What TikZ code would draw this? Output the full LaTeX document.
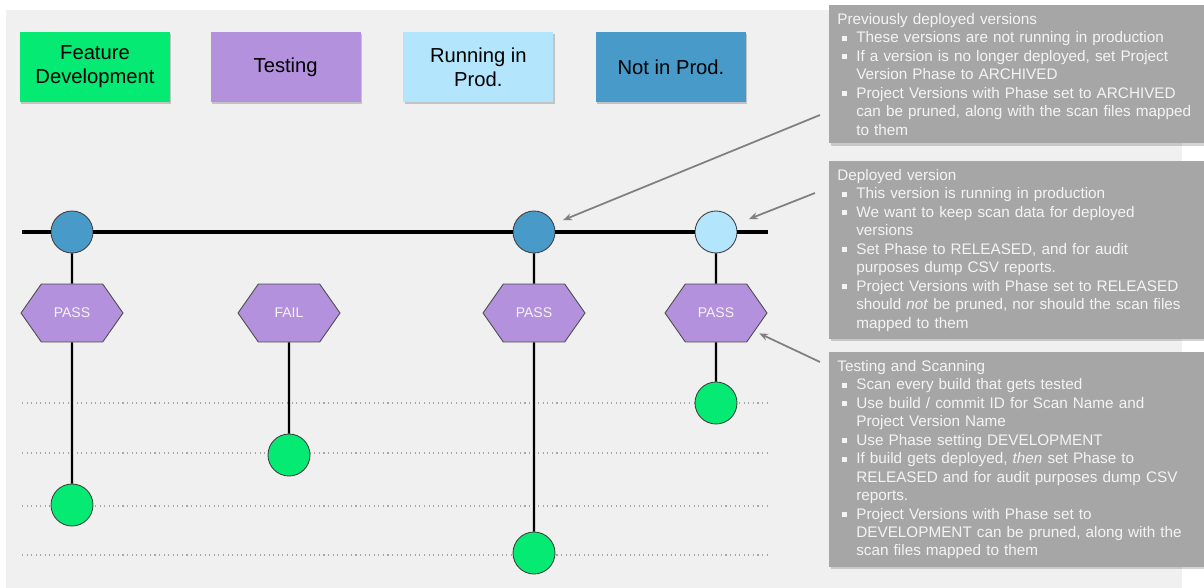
\documentclass[tikz,border=0pt]{standalone}
\usepackage{fontspec}
\setmainfont{Liberation Sans}
\usetikzlibrary{shapes.symbols, arrows.meta, positioning, shadows}

\definecolor{devgreen}{RGB}{5,234,115}
\definecolor{testpurple}{RGB}{179,145,220}
\definecolor{prodblue}{RGB}{179,229,252}
\definecolor{oldblue}{RGB}{72,155,200}
\definecolor{pagegray}{RGB}{240,240,240}
\definecolor{notegray}{RGB}{166,166,166}
\definecolor{notetext}{RGB}{244,244,244}

\newcommand{\itm}{\makebox[0.38cm][l]{\hspace*{0.09cm}\rule[0.25ex]{0.1cm}{0.1cm}}}
\newcommand{\cont}{\hspace*{0.38cm}}

\begin{document}
\begin{tikzpicture}[
  x=0.02cm, y=-0.02cm,
  legend/.style={
    rectangle, minimum width=3cm, minimum height=1.4cm,
    align=center, font=\fontsize{11.5}{13.5}\selectfont,
    drop shadow={shadow xshift=0.7pt, shadow yshift=-1.3pt, opacity=0.4}
  },
  ver/.style={
    circle, draw=black!75, line width=0.5pt,
    minimum size=0.84cm, inner sep=0pt
  },
  gate/.style={
    signal, signal to=east and west, signal pointer angle=110,
    draw=black!70, line width=0.5pt, fill=testpurple,
    minimum width=2.04cm, minimum height=1.16cm, inner sep=0pt,
    text=notetext, font=\fontsize{8}{9}\selectfont
  },
  note/.style={
    rectangle, fill=notegray, anchor=north west,
    text width=7.18cm, inner xsep=0.16cm, inner ysep=0.16cm,
    align=left, text=notetext, font=\fontsize{8.7}{10.5}\selectfont,
    drop shadow={shadow xshift=0.8pt, shadow yshift=-1.3pt, opacity=0.35}
  },
  mainline/.style={line width=1.9pt, draw=black},
  stem/.style={line width=1.3pt, draw=black},
  gridline/.style={dotted, line width=0.6pt, draw=black!35},
  callarr/.style={-{Stealth[length=5pt, width=4pt]}, line width=1pt, draw=black!50}
]
\useasboundingbox (0,0) rectangle (1204,588);
\fill[pagegray] (6,10) rectangle (1182,588);

%% Legend row
\node[legend, fill=devgreen] (dev) at (95,67) {Feature\\Development};
\node[legend, fill=testpurple, right=0.8cm of dev] (test) {Testing};
\node[legend, fill=prodblue, right=0.84cm of test] (run) {Running in\\Prod.};
\node[legend, fill=oldblue, right=0.84cm of run] (old) {Not in Prod.};

%% Dotted levels
\foreach \y in {403,453,506,555}
  \draw[gridline] (22,\y) -- (768,\y);

%% Release line
\coordinate (lstart) at (22,232);
\coordinate (lend) at (768,232);
\node[ver, fill=oldblue] (c1) at (72,232) {};
\node[ver, fill=oldblue] (c3) at (534,232) {};
\node[ver, fill=prodblue] (c4) at (716,232) {};
\draw[mainline] (lstart) -- (c1);
\draw[mainline] (c1) -- (c3);
\draw[mainline] (c3) -- (c4);
\draw[mainline] (c4) -- (lend);

%% Test gates
\node[gate] (h1) at (72,313) {PASS};
\node[gate] (h2) at (289,313) {FAIL};
\node[gate] (h3) at (534,313) {PASS};
\node[gate] (h4) at (716,313) {PASS};

%% Builds
\node[ver, fill=devgreen] (g1) at (72,505) {};
\node[ver, fill=devgreen] (g2) at (289,455) {};
\node[ver, fill=devgreen] (g3) at (534,553) {};
\node[ver, fill=devgreen] (g4) at (716,403) {};

\draw[stem] (c1) -- (h1);
\draw[stem] (h1) -- (g1);
\draw[stem] (h2) -- (g2);
\draw[stem] (c3) -- (h3);
\draw[stem] (h3) -- (g3);
\draw[stem] (c4) -- (h4);
\draw[stem] (h4) -- (g4);

%% Notes on the right
\node[note] (n1) at (829,5) {Previously deployed versions\\
\itm These versions are not running in production\\
\itm If a version is no longer deployed, set Project\\
\cont Version Phase to ARCHIVED\\
\itm Project Versions with Phase set to ARCHIVED\\
\cont can be pruned, along with the scan files mapped\\
\cont to them};
\node[note] (n2) at (829,161) {Deployed version\\
\itm This version is running in production\\
\itm We want to keep scan data for deployed\\
\cont versions\\
\itm Set Phase to RELEASED, and for audit\\
\cont purposes dump CSV reports.\\
\itm Project Versions with Phase set to RELEASED\\
\cont should \textit{not} be pruned, nor should the scan files\\
\cont mapped to them};
\node[note] (n3) at (829,352) {Testing and Scanning\\
\itm Scan every build that gets tested\\
\itm Use build / commit ID for Scan Name and\\
\cont Project Version Name\\
\itm Use Phase setting DEVELOPMENT\\
\itm If build gets deployed, \textit{then} set Phase to\\
\cont RELEASED and for audit purposes dump CSV\\
\cont reports.\\
\itm Project Versions with Phase set to\\
\cont DEVELOPMENT can be pruned, along with the\\
\cont scan files mapped to them};

%% Pointers
\coordinate (p1) at (820,115);
\coordinate (p2) at (815,193);
\coordinate (p3) at (820,362);
\draw[callarr, shorten >=0.2cm] (p1) -- (c3);
\draw[callarr, shorten >=0.28cm] (p2) -- (c4);
\draw[callarr, shorten >=0.1cm] (p3) -- (h4);

\end{tikzpicture}
\end{document}
